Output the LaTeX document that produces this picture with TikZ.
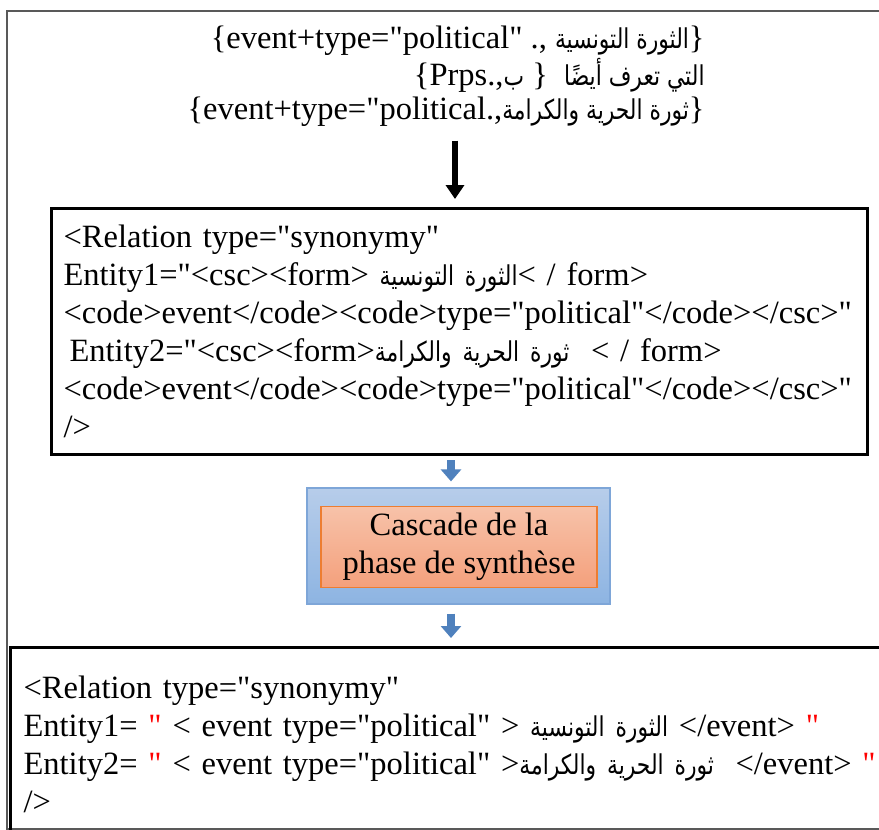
\documentclass[tikz,border=0pt]{standalone}
\usepackage{fontspec}
\setmainfont{Liberation Serif}[Ligatures=TeXOff]
\newfontfamily\arabicfont[Script=Arabic,Scale=0.84,FakeStretch=0.8]{DejaVu Sans}
\TeXXeTstate=1
\usepackage{xcolor}
\definecolor{framegray}{HTML}{595959}
\definecolor{arrblue}{HTML}{4F81BD}
\definecolor{bluebrd}{HTML}{7EA6D8}
\definecolor{bluetop}{HTML}{B7CDEA}
\definecolor{bluebot}{HTML}{8DB4E2}
\definecolor{orgbrd}{HTML}{ED7D31}
\definecolor{orgtop}{HTML}{F7C2A9}
\definecolor{orgbot}{HTML}{F4A07C}
\usepackage{tikz}
\usetikzlibrary{arrows.meta,positioning}
\newcommand{\artxt}[1]{{\arabicfont\beginR #1\endR}}
\newcommand{\redq}{\textcolor{red}{"}}

\begin{document}
\begin{tikzpicture}[x=0.5pt,y=-0.5pt,font=\fontsize{16.25}{19}\selectfont,
  blk/.style={draw=black,line width=1.6pt,anchor=north west,align=left,inner ysep=0pt},
  arr/.style={-{Triangle[width=9pt,length=7pt]},line width=2.6pt},
  blarr/.style={-{Triangle[width=10pt,length=6pt]},line width=4pt,draw=arrblue}]
\useasboundingbox (0,0) rectangle (879,830);
\clip (0,0) rectangle (879,830);
% outer frame
\draw[framegray,line width=0.8pt] (7,11) rectangle (900,829);
% query lines
\node[anchor=north east,inner sep=0pt,align=right,font=\fontsize{16.25}{17}\selectfont] (query) at (705,26)
  {\{event+type="political" ., \artxt{الثورة التونسية}\}\\
   \{Prps.,\artxt{ب} \}\ \ \artxt{التي تعرف أيضًا}\\
   \{event+type="political.,\artxt{ثورة الحرية والكرامة}\}};
% relation with csc codes
\node[blk,minimum width=408pt,minimum height=123pt,text width=396pt,inner xsep=6pt] (rel) at (50,207)
  {<Relation type="synonymy"\\
   Entity1="<csc><form> \artxt{الثورة التونسية}< / form>\\
   <code>event</code><code>type="political"</code></csc>"\\
   \hspace*{3pt}Entity2="<csc><form>\artxt{ثورة الحرية والكرامة}\ \ < / form>\\
   <code>event</code><code>type="political"</code></csc>"\\
   />};
\coordinate (ax) at (455,0);
\draw[arr,shorten <=7pt,shorten >=4pt] (query.south -| ax) -- (rel.north -| ax);
% synthesis cascade
\node[draw=bluebrd,line width=0.6pt,top color=bluetop,bottom color=bluebot,
  minimum width=151.5pt,minimum height=58pt] (casc) at (458.5,546) {};
\node[draw=orgbrd,line width=0.6pt,top color=orgtop,bottom color=orgbot,
  minimum width=138pt,minimum height=40pt,align=center] (phase) at (459,547)
  {Cascade de la\\phase de synthèse};
% output relation
\node[blk,minimum width=460pt,minimum height=97pt,text width=447pt,inner xsep=6.5pt] (out) at (9,646)
  {<Relation type="synonymy"\\
   Entity1= \redq{} < event type="political" > \artxt{الثورة التونسية} </event> \redq\\
   Entity2= \redq{} < event type="political" >\artxt{ثورة الحرية والكرامة}\ \ </event> \redq\\
   />};
\coordinate (bx) at (451,0);
\draw[blarr,shorten <=2pt,shorten >=3pt] (rel.south -| bx) -- (casc.north -| bx);
\draw[blarr,shorten <=4.5pt,shorten >=4pt] (casc.south -| bx) -- (out.north -| bx);
\end{tikzpicture}
\end{document}
